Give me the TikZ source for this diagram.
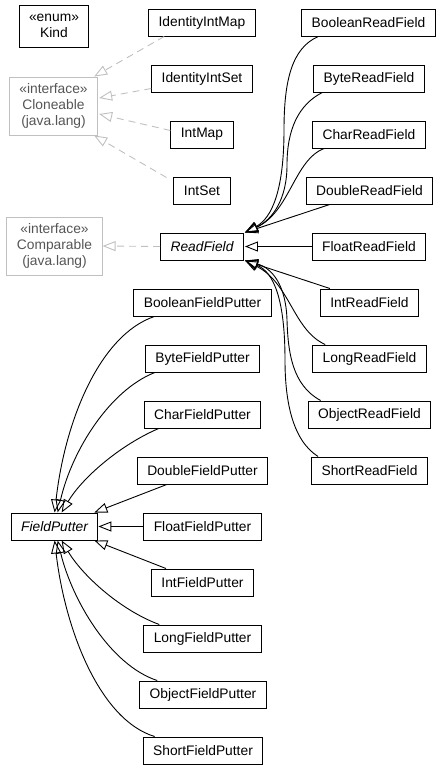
\documentclass[tikz,border=0pt]{standalone}
\usepackage{fontspec}
\setmainfont{Liberation Sans}
\usetikzlibrary{arrows.meta,calc}
\definecolor{ifgray}{HTML}{C0C0C0}
\definecolor{iftext}{HTML}{555555}
\tikzset{
  cls/.style={draw=black, line width=1pt, fill=white, minimum height=27pt, inner xsep=10pt, inner ysep=2pt,
    font=\fontsize{13.8}{16}\selectfont, align=center},
  iface/.style={cls, draw=ifgray, text=iftext},
  ext/.style={draw=black, line width=0.9pt, -{Triangle[open,length=13pt,width=10pt,line width=0.9pt]}},
  impl/.style={draw=ifgray, line width=0.9pt, dash pattern=on 7pt off 5pt, -{Triangle[open,length=13pt,width=10pt,line width=0.9pt]}},
}
\begin{document}
\begin{tikzpicture}[x=1pt,y=-1pt]
\useasboundingbox (0,0) rectangle (443,769);
% nodes
\node[cls, minimum width=68pt, minimum height=42pt] (kind) at (54,26) {«enum»\\Kind};
\node[cls] (iim) at (202,22.5) {IdentityIntMap};
\node[cls] (iis) at (202,78.5) {IdentityIntSet};
\node[cls] (im) at (202,134.5) {IntMap};
\node[cls] (is) at (202,190.5) {IntSet};
\node[iface, minimum width=87pt, minimum height=58pt] (clo) at (53.5,106) {«interface»\\Cloneable\\(java.lang)};
\node[iface, minimum width=95pt, minimum height=58pt] (cmp) at (54.5,246) {«interface»\\Comparable\\(java.lang)};
\node[cls, minimum width=80pt] (rf) at (202,246.5) {\itshape ReadField};
\node[cls] (brf) at (368.5,22.5) {BooleanReadField};
\node[cls] (byrf) at (369,78.5) {ByteReadField};
\node[cls] (crf) at (369,134.5) {CharReadField};
\node[cls] (drf) at (369.5,190.5) {DoubleReadField};
\node[cls] (frf) at (369,246.5) {FloatReadField};
\node[cls] (irf) at (369.5,302.5) {IntReadField};
\node[cls] (lrf) at (369.5,358.5) {LongReadField};
\node[cls] (orf) at (369.5,414.5) {ObjectReadField};
\node[cls] (srf) at (369.5,470.5) {ShortReadField};
\node[cls] (bfp) at (202.5,302.5) {BooleanFieldPutter};
\node[cls] (byfp) at (202.5,358.5) {ByteFieldPutter};
\node[cls] (cfp) at (202.5,414.5) {CharFieldPutter};
\node[cls] (dfp) at (202.5,470.5) {DoubleFieldPutter};
\node[cls, minimum width=83pt] (fp) at (54.5,526.5) {\itshape FieldPutter};
\node[cls] (ffp) at (202.5,526.5) {FloatFieldPutter};
\node[cls] (ifp) at (202.5,582.5) {IntFieldPutter};
\node[cls] (lfp) at (202.5,638.5) {LongFieldPutter};
\node[cls] (ofp) at (203,694.5) {ObjectFieldPutter};
\node[cls] (sfp) at (203,750.5) {ShortFieldPutter};
% implements (dashed)
\draw[impl] ($(iim.south west)+(16,0)$) -- ($(clo.north east)+(-4,0)$);
\draw[impl] ($(iis.west)+(0,10)$) -- ($(clo.east)+(1,-8)$);
\draw[impl] ($(im.west)+(0,-4)$) -- ($(clo.east)+(1,8)$);
\draw[impl] ($(is.north west)+(-7,1)$) -- ($(clo.south east)+(-4,0)$);
\draw[impl] (rf.west) -- (cmp.east);
% ReadField subclasses
\draw[ext] ($(brf.south west)+(17,0)$) .. controls (292,48) and (284,80) .. (284,130) .. controls (284,190) and (272,218) .. ($(rf.north east)+(1,0)$);
\draw[ext] ($(byrf.south west)+(9,0)$) .. controls (298,105) and (287,130) .. (287,165) .. controls (287,200) and (272,220) .. ($(rf.north east)+(1,0)$);
\draw[ext] ($(crf.south west)+(12,0)$) .. controls (294,160) and (290,212) .. ($(rf.north east)+(1,0)$);
\draw[ext] ($(drf.south west)+(24,0)$) -- ($(rf.north east)+(1,0)$);
\draw[ext] (frf.west) -- ($(rf.east)+(1,0)$);
\draw[ext] ($(irf.north west)+(10,0)$) -- ($(rf.south east)+(1,0)$);
\draw[ext] ($(lrf.north west)+(13,0)$) .. controls (293,330) and (290,283) .. ($(rf.south east)+(1,0)$);
\draw[ext] ($(orf.north west)+(13,0)$) .. controls (292,385) and (288,352) .. (287,320) .. controls (286,285) and (272,268) .. ($(rf.south east)+(1,0)$);
\draw[ext] ($(srf.north west)+(7,0)$) .. controls (292,440) and (285,400) .. (285,360) .. controls (285,300) and (274,272) .. ($(rf.south east)+(1,0)$);
% FieldPutter subclasses
\draw[ext] ($(bfp.south west)+(21,0)$) .. controls (100,335) and (65,420) .. ($(fp.north west)+(44,0)$);
\draw[ext] ($(byfp.south west)+(10,0)$) .. controls (110,390) and (72,450) .. ($(fp.north west)+(47,0)$);
\draw[ext] ($(cfp.south west)+(15,0)$) .. controls (120,445) and (82,478) .. ($(fp.north west)+(51,0)$);
\draw[ext] ($(dfp.south west)+(30,0)$) -- ($(fp.north east)+(-4,0)$);
\draw[ext] (ffp.west) -- (fp.east);
\draw[ext] ($(ifp.north west)+(15,0)$) -- ($(fp.south east)+(-4,0)$);
\draw[ext] ($(lfp.north west)+(16,0)$) .. controls (120,610) and (82,575) .. ($(fp.south west)+(51,0)$);
\draw[ext] ($(ofp.north west)+(18,0)$) .. controls (110,665) and (72,600) .. ($(fp.south west)+(47,0)$);
\draw[ext] ($(sfp.north west)+(12,0)$) .. controls (100,720) and (65,630) .. ($(fp.south west)+(44,0)$);
\end{tikzpicture}
\end{document}
